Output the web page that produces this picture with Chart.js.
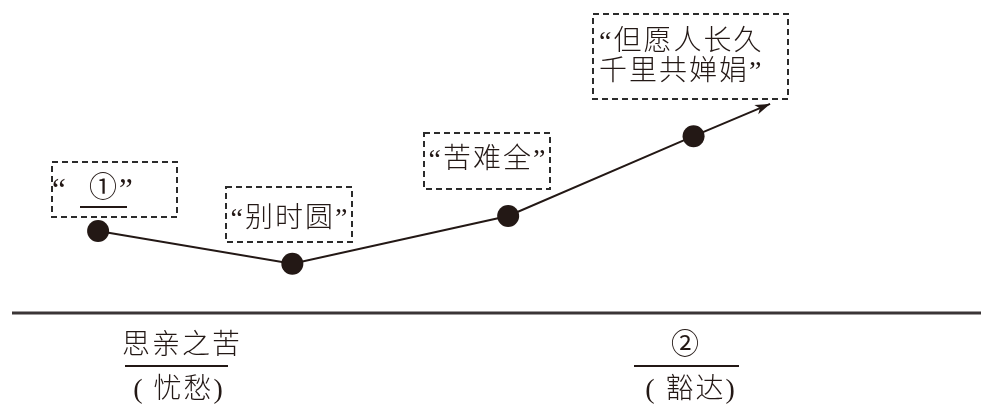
<!DOCTYPE html>
<html>
<head>
<meta charset="utf-8">
<title>情感变化</title>
<script src="https://cdn.jsdelivr.net/npm/chart.js@4.4.0/dist/chart.umd.min.js"></script>
<style>
    html, body { margin: 0; padding: 0; background: #fff; }
    #mood-chart { display: block; }
</style>
</head>
<body>
<canvas id="mood-chart" width="981" height="409"></canvas>
<script>
// Position along the text (0-100) and mood level (0-100) of each stage.
var stageX = [10.0, 29.8, 51.8, 70.7, 78.5];
var moodY = [43.5, 35.5, 47.2, 66.7, 74.6];
// Last entry is only the arrow tip, no dot.
var stageDot = [true, true, true, true, false];
var baselineLevel = 23.5;

var stageLabels = [['“①”'], ['“别时圆”'], ['“苦难全”'], ['“但愿人长久', '千里共婵娟”']];
var toneLabels = ['思亲之苦', '②'];
var toneNotes = ['( 忧愁)', '( 豁达)'];

var INK = '#231815';
var FONT = '"Liberation Serif", "Noto Sans CJK SC", sans-serif';

function font(size, weight) {
    return (weight || 300) + ' ' + size + 'px ' + FONT;
}

/**
 * Dashed boxes, quotes and the bottom captions.
 */
var decorPlugin = {
    id: 'decor',
    afterDatasetsDraw: function(chart) {
        var ctx = chart.ctx;
        var ys = chart.scales.y;
        var pts = chart.getDatasetMeta(0).data;

        ctx.save();

        // arrow head on the last segment
        var a = pts[pts.length - 2], b = pts[pts.length - 1];
        var c = Math.cos(Math.atan2(b.y - a.y, b.x - a.x));
        var s = Math.sin(Math.atan2(b.y - a.y, b.x - a.x));
        ctx.fillStyle = INK;
        ctx.beginPath();
        ctx.moveTo(b.x, b.y);
        ctx.lineTo(b.x - 15 * c + 5 * s, b.y - 15 * s - 5 * c);
        ctx.lineTo(b.x - 11 * c, b.y - 11 * s);
        ctx.lineTo(b.x - 15 * c - 5 * s, b.y - 15 * s + 5 * c);
        ctx.closePath();
        ctx.fill();

        // ground line
        var by = ys.getPixelForValue(baselineLevel);
        ctx.strokeStyle = '#3a3536';
        ctx.lineWidth = 3;
        ctx.beginPath();
        ctx.moveTo(12, by);
        ctx.lineTo(chart.width, by);
        ctx.stroke();

        // dashed label boxes
        var boxes = [
            { x: 52, y: 162, w: 125, h: 55 },
            { x: 226, y: 187, w: 126, h: 55 },
            { x: 424, y: 133, w: 126, h: 56 },
            { x: 593, y: 14, w: 195, h: 85 }
        ];
        ctx.strokeStyle = '#2b2b2b';
        ctx.lineWidth = 2;
        ctx.setLineDash([6, 4]);
        boxes.forEach(function(bx) {
            ctx.strokeRect(bx.x, bx.y, bx.w, bx.h);
        });
        ctx.setLineDash([]);

        ctx.fillStyle = INK;
        ctx.textBaseline = 'middle';
        ctx.letterSpacing = '2px';

        // box 1: blank to fill in
        ctx.font = font(31, 400);
        ctx.textAlign = 'left';
        ctx.fillText('“', 52, 192);
        ctx.fillText('”', 119, 192);
        ctx.textAlign = 'center';
        ctx.font = font(28, 400);
        ctx.fillText(stageLabels[0][0].slice(1, 2), 104, 190);
        ctx.lineWidth = 2;
        ctx.strokeStyle = INK;
        ctx.beginPath();
        ctx.moveTo(80, 207);
        ctx.lineTo(127, 207);
        ctx.stroke();

        ctx.font = font(28);
        ctx.fillText(stageLabels[1][0], 290, 220);
        ctx.fillText(stageLabels[2][0], 488, 161);
        ctx.textAlign = 'left';
        ctx.fillText(stageLabels[3][0], 599, 43);
        ctx.fillText(stageLabels[3][1], 599, 73);

        // captions under the ground line
        ctx.textAlign = 'center';
        ctx.fillText(toneLabels[0], 182, 347);
        ctx.font = font(28, 400);
        ctx.fillText(toneLabels[1], 686, 347);
        ctx.font = font(28);
        ctx.fillText(toneNotes[0], 179, 391);
        ctx.fillText(toneNotes[1], 691, 391);

        ctx.beginPath();
        ctx.moveTo(125, 366); ctx.lineTo(228, 366);
        ctx.moveTo(634, 366); ctx.lineTo(739, 366);
        ctx.stroke();

        ctx.restore();
    }
};

var ctx = document.getElementById('mood-chart');
var myChart = new Chart(ctx, {
    type: 'line',
    data: {
        datasets: [{
            data: stageX.map(function(x, i) { return { x: x, y: moodY[i] }; }),
            borderColor: INK,
            borderWidth: 2,
            backgroundColor: INK,
            pointBackgroundColor: INK,
            pointBorderWidth: 0,
            pointRadius: stageDot.map(function(d) { return d ? 11 : 0; }),
            pointHoverRadius: stageDot.map(function(d) { return d ? 11 : 0; }),
            tension: 0,
            fill: false,
            clip: false
        }]
    },
    options: {
        responsive: false,
        animation: false,
        events: [],
        layout: { padding: 0, autoPadding: false },
        plugins: {
            legend: { display: false },
            tooltip: { enabled: false }
        },
        scales: {
            x: { type: 'linear', min: 0, max: 100, display: false },
            y: { type: 'linear', min: 0, max: 100, display: false }
        }
    },
    plugins: [decorPlugin]
});
</script>
</body>
</html>
